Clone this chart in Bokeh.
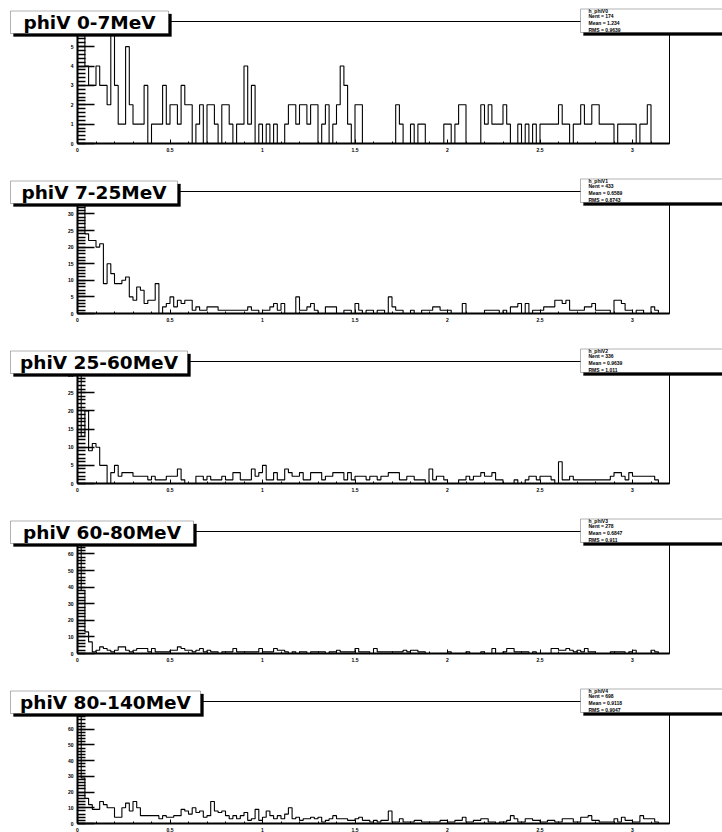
import numpy as np
from bokeh.plotting import figure
from bokeh.layouts import column
from bokeh.models import Label, BoxAnnotation, FixedTicker, Range1d
from bokeh.embed import file_html
from bokeh.resources import INLINE

# ---------------- data ----------------
X_MIN, X_MAX, BIN_W = 0.0, 3.2, 0.02
X_TICKS = [0, 0.5, 1, 1.5, 2, 2.5, 3]
X_TICK_LABELS = ["0", "0.5", "1", "1.5", "2", "2.5", "3"]

TITLES = ["phiV 0-7MeV", "phiV 7-25MeV", "phiV 25-60MeV", "phiV 60-80MeV", "phiV 80-140MeV"]
HIST_NAMES = ["h_phiV0", "h_phiV1", "h_phiV2", "h_phiV3", "h_phiV4"]
NENT = ["174", "433", "336", "278", "698"]
MEAN = ["1.234", "0.6589", "0.9639", "0.6847", "0.9118"]
RMS = ["0.9639", "0.8743", "1.011", "0.911", "0.9047"]

Y_MAJOR = [[0, 1, 2, 3, 4, 5, 6],
           [0, 5, 10, 15, 20, 25, 30, 35],
           [0, 5, 10, 15, 20, 25, 30],
           [0, 10, 20, 30, 40, 50, 60, 70],
           [0, 10, 20, 30, 40, 50, 60, 70]]
Y_MINOR_STEP = [0.2, 1, 1, 2, 2]

counts_0_7 = [
    6, 6, 4, 3, 3, 4, 3, 3, 2, 6, 3, 1, 1, 5, 2, 1, 1, 1, 3, 0,
    1, 1, 1, 3, 1, 2, 2, 1, 3, 2, 2, 0, 1, 2, 0, 2, 2, 1, 0, 2,
    2, 1, 0, 1, 1, 4, 1, 3, 0, 1, 0, 1, 0, 1, 0, 0, 1, 2, 2, 1,
    2, 2, 1, 2, 2, 0, 1, 2, 0, 1, 2, 4, 3, 1, 0, 2, 2, 0, 0, 0,
    0, 0, 0, 0, 0, 0, 2, 1, 0, 0, 1, 0, 1, 1, 0, 0, 0, 0, 0, 1,
    1, 0, 1, 2, 2, 0, 0, 0, 0, 2, 1, 2, 1, 1, 1, 2, 1, 0, 0, 1,
    0, 1, 0, 1, 0, 1, 1, 1, 1, 1, 2, 1, 1, 0, 1, 1, 2, 1, 1, 2,
    2, 1, 1, 1, 1, 0, 1, 1, 1, 1, 1, 0, 1, 1, 2, 0, 0, 0, 0, 0]

counts_7_25 = [
    35, 33, 24, 22, 22, 20, 21, 9, 15, 12, 9, 9, 10, 11, 5, 4, 8, 7, 3, 4,
    4, 9, 0, 2, 3, 5, 2, 4, 3, 4, 4, 1, 2, 1, 1, 2, 2, 2, 1, 1,
    1, 1, 1, 1, 1, 1, 2, 1, 1, 0, 1, 1, 2, 3, 1, 3, 0, 0, 0, 5,
    1, 1, 2, 3, 1, 0, 0, 2, 2, 2, 0, 0, 1, 1, 0, 3, 1, 0, 1, 1,
    0, 1, 1, 0, 5, 2, 1, 1, 0, 0, 1, 0, 0, 1, 1, 1, 2, 2, 1, 1,
    1, 0, 0, 0, 3, 0, 0, 0, 0, 0, 1, 1, 1, 1, 0, 1, 0, 2, 2, 3,
    0, 3, 0, 1, 1, 1, 2, 2, 2, 4, 4, 3, 4, 1, 1, 1, 1, 2, 2, 3,
    1, 1, 1, 1, 0, 4, 4, 3, 1, 1, 0, 1, 1, 0, 0, 2, 1, 0, 0, 0]

counts_25_60 = [
    32, 13, 20, 9, 11, 10, 5, 5, 0, 3, 5, 2, 3, 3, 3, 2, 2, 2, 2, 1,
    2, 1, 1, 1, 2, 2, 2, 4, 1, 0, 0, 0, 2, 2, 1, 2, 1, 1, 1, 2,
    1, 1, 3, 3, 1, 1, 1, 4, 2, 3, 5, 1, 1, 3, 1, 1, 4, 3, 2, 2,
    3, 1, 1, 3, 3, 3, 1, 2, 2, 3, 3, 3, 1, 3, 1, 2, 2, 2, 1, 2,
    2, 1, 2, 2, 3, 3, 3, 1, 1, 2, 2, 1, 1, 1, 0, 4, 1, 2, 2, 1,
    0, 0, 0, 1, 1, 2, 1, 2, 2, 3, 2, 2, 3, 1, 1, 0, 0, 0, 1, 0,
    0, 1, 2, 2, 1, 2, 2, 2, 1, 0, 6, 1, 1, 2, 1, 1, 1, 1, 1, 1,
    1, 1, 1, 1, 2, 3, 3, 2, 1, 3, 2, 2, 2, 2, 2, 2, 1, 0, 0, 0]

counts_60_80 = [
    70, 38, 13, 7, 1, 2, 4, 3, 2, 1, 2, 4, 4, 2, 1, 2, 3, 3, 3, 1,
    3, 1, 1, 1, 1, 2, 2, 4, 3, 2, 2, 1, 2, 3, 1, 2, 1, 1, 0, 1,
    1, 1, 3, 1, 1, 1, 1, 1, 1, 3, 1, 1, 1, 3, 2, 2, 1, 0, 1, 0,
    1, 1, 0, 1, 1, 1, 1, 0, 1, 1, 2, 1, 1, 1, 1, 3, 1, 1, 1, 0,
    3, 1, 1, 1, 1, 1, 1, 1, 2, 1, 2, 2, 1, 1, 0, 0, 0, 0, 0, 0,
    1, 0, 0, 0, 0, 1, 0, 0, 0, 1, 0, 0, 3, 0, 0, 1, 3, 3, 1, 1,
    1, 1, 0, 1, 0, 0, 0, 0, 3, 3, 2, 2, 3, 2, 1, 2, 1, 3, 1, 1,
    0, 0, 0, 0, 1, 1, 1, 1, 0, 1, 2, 0, 0, 0, 0, 2, 1, 0, 0, 0]

counts_80_140 = [
    74, 29, 16, 12, 9, 9, 14, 12, 10, 10, 4, 4, 10, 13, 8, 14, 10, 5, 5, 5,
    5, 5, 3, 5, 4, 4, 5, 5, 9, 8, 6, 10, 7, 8, 4, 5, 14, 8, 7, 8,
    5, 3, 5, 3, 5, 7, 2, 3, 9, 2, 4, 8, 5, 3, 5, 3, 6, 10, 3, 4,
    2, 3, 3, 4, 3, 4, 1, 2, 3, 5, 3, 3, 3, 2, 2, 3, 4, 2, 2, 1,
    2, 1, 2, 2, 8, 1, 1, 3, 1, 1, 1, 2, 2, 1, 1, 1, 1, 1, 2, 2,
    1, 1, 2, 2, 4, 1, 1, 2, 2, 3, 3, 1, 1, 0, 1, 1, 2, 5, 3, 1,
    1, 3, 3, 2, 2, 1, 1, 2, 2, 1, 1, 3, 3, 3, 1, 1, 4, 4, 5, 2,
    2, 1, 1, 1, 1, 3, 1, 4, 2, 2, 1, 1, 5, 3, 3, 3, 1, 0, 0, 0]

ALL_COUNTS = [counts_0_7, counts_7_25, counts_25_60, counts_60_80, counts_80_140]

# ---------------- layout constants (pixels) ----------------
FIG_W = 722
FRAME_H = 122                 # height of the ROOT frame
FRAME_L, FRAME_R = 77, 669    # ROOT frame left/right (page px)
BORDER_TOP = [21, 28, 28, 28, 28]
BORDER_BOTTOM = [20, 20, 20, 20, 9]
TITLE_BOX_LEFT = 10
TITLE_BOX_RIGHT = [168, 177, 187, 193, 200]
STATS_BOX_LEFT = 580
TITLE_FONT = "DejaVu Sans"
SMALL_FONT = "Liberation Sans"

PX_PER_X = (FRAME_R - FRAME_L) / (X_MAX - X_MIN)


def screen_box(left, right, top, bottom, **kw):
    return BoxAnnotation(left=left, right=right, top=top, bottom=bottom,
                         left_units="screen", right_units="screen",
                         top_units="screen", bottom_units="screen", level="overlay", **kw)


def make_panel(k):
    counts = np.asarray(ALL_COUNTS[k], dtype=float)
    ymax = 1.05 * counts.max()
    bt, bb = BORDER_TOP[k], BORDER_BOTTOM[k]
    h = bt + FRAME_H + bb
    py = ymax / FRAME_H
    x_range = Range1d(X_MIN - FRAME_L / PX_PER_X, X_MAX + (FIG_W - FRAME_R) / PX_PER_X)
    y_range = Range1d(-bb * py, ymax + bt * py)
    p = figure(width=FIG_W, height=h, x_range=x_range, y_range=y_range,
               output_backend="svg", toolbar_location=None, title=None,
               min_border=0)
    p.xgrid.visible = False
    p.ygrid.visible = False
    p.outline_line_color = None
    p.background_fill_color = "white"
    p.border_fill_color = "white"

    # ROOT frame
    p.quad(left=[X_MIN], right=[X_MAX], bottom=[0], top=[ymax],
           fill_color=None, line_color="black", line_width=1)

    # histogram outline (ROOT style step)
    edges = X_MIN + BIN_W * np.arange(len(counts) + 1)
    xs = np.repeat(edges, 2)
    ys = np.concatenate([[0.0], np.repeat(counts, 2), [0.0]])
    p.line(xs, ys, line_color="black", line_width=1.1)

    # axes positioned on the ROOT frame
    xminor = list(np.round(np.arange(0, 3.21, 0.1), 2))
    p.xaxis.ticker = FixedTicker(ticks=X_TICKS, minor_ticks=xminor)
    p.xaxis.major_label_overrides = {t: l for t, l in zip(X_TICKS, X_TICK_LABELS)}
    p.xaxis.fixed_location = 0
    p.xaxis.bounds = (X_MIN, X_MAX)
    ystep = Y_MINOR_STEP[k]
    yminor = list(np.round(np.arange(0, ymax, ystep), 3))
    p.yaxis.ticker = FixedTicker(ticks=Y_MAJOR[k], minor_ticks=yminor)
    p.yaxis.major_label_overrides = {t: str(t) for t in Y_MAJOR[k]}
    p.yaxis.fixed_location = 0
    p.yaxis.bounds = (0, ymax)
    for ax in (p.xaxis, p.yaxis):
        ax.axis_line_color = "black"
        ax.axis_line_width = 2
        ax.major_tick_out = 0
        ax.minor_tick_out = 0
        ax.major_label_text_font = SMALL_FONT
        ax.major_label_text_font_style = "bold"
        ax.major_label_text_font_size = "5px"
        ax.major_label_text_color = "black"
        ax.major_tick_line_color = "black"
        ax.minor_tick_line_color = "black"
    p.yaxis.major_tick_in = 17
    p.yaxis.minor_tick_in = 8
    p.yaxis.major_tick_line_width = 1.3
    p.yaxis.minor_tick_line_width = 1.3
    p.yaxis.major_label_standoff = 4
    p.xaxis.major_tick_in = 4
    p.xaxis.minor_tick_in = 2
    p.xaxis.major_label_standoff = 4

    # screen coords: x from figure left, y from figure bottom
    ftop = bb + FRAME_H
    # title box (shadow + box + text)
    top, bot = ftop + 10.5, ftop - 12
    L, R = TITLE_BOX_LEFT, TITLE_BOX_RIGHT[k]
    p.add_layout(screen_box(L + 3, R + 3, top - 3, bot - 3, fill_color="black", fill_alpha=1,
                            line_color="black"))
    p.add_layout(screen_box(L, R, top, bot, fill_color="white", fill_alpha=1,
                            line_color="black", line_width=1))
    p.add_layout(Label(x=(L + R) / 2, y=(top + bot) / 2 - 0.5, x_units="screen", y_units="screen",
                       text=TITLES[k], text_font=TITLE_FONT, text_font_style="bold", text_font_size="18.5px",
                       text_align="center", text_baseline="middle", text_color="black", level="overlay"))

    # stats box
    stop, sbot = ftop + 12.5, ftop - 11
    p.add_layout(screen_box(STATS_BOX_LEFT + 3, FIG_W + 5, sbot + 0.5, sbot - 3, fill_color="black",
                            fill_alpha=1, line_color="black"))
    p.add_layout(screen_box(STATS_BOX_LEFT, FIG_W + 5, stop, sbot, fill_color="white", fill_alpha=1,
                            line_color="black", line_width=1))
    lines = [HIST_NAMES[k], "Nent = " + NENT[k], "Mean  = " + MEAN[k], "RMS   = " + RMS[k]]
    offs = [11, 5.3, -1.7, -8.3]
    for txt, off in zip(lines, offs):
        p.add_layout(Label(x=STATS_BOX_LEFT + 8, y=ftop + off, x_units="screen", y_units="screen", text=txt,
                           text_font=SMALL_FONT, text_font_style="bold", text_font_size="5px",
                           text_align="left", text_baseline="middle", text_color="black", level="overlay"))
    return p


panels = [make_panel(k) for k in range(5)]
layout = column(*panels, spacing=0)
open("out.html", "w").write(file_html(layout, INLINE))
